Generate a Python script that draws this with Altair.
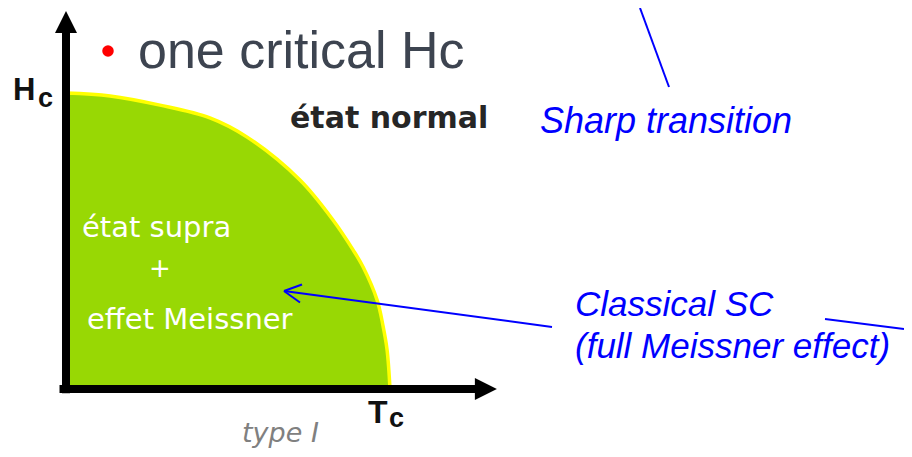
import altair as alt
import pandas as pd

# ---- data (T/Tc, H/Hc) ----
T_over_Tc = [0.0, 0.136, 0.290, 0.444, 0.559, 0.722, 0.824, 0.886, 0.917, 0.960, 0.978, 0.991, 1.0]
H_over_Hc = [1.0, 0.990, 0.959, 0.916, 0.851, 0.706, 0.571, 0.470, 0.412, 0.301, 0.216, 0.132, 0.0]

title_text = "one critical Hc"
normal_label = "état normal"
supra_labels = ["état supra", "+", "effet Meissner"]
type_label = "type I"
note_sharp = "Sharp transition"
note_classical = ["Classical SC", "(full Meissner effect)"]

W, H = 896, 441
xs = alt.Scale(domain=[-0.17901, 2.58642], nice=False, zero=False)
ys = alt.Scale(domain=[-0.20270, 1.28716], nice=False, zero=False)

curve = pd.DataFrame({"T": T_over_Tc, "H": H_over_Hc})

area = alt.Chart(curve).mark_area(
    fill="#98d804", stroke="#ffff00", strokeWidth=3.5, interpolate="catmull-rom"
).encode(
    x=alt.X("T:Q", scale=xs, axis=None),
    y=alt.Y("H:Q", scale=ys, axis=None),
    y2=alt.datum(0),
)

one = pd.DataFrame({"a": [0]})

y_axis = alt.Chart(one).mark_rule(color="black", strokeWidth=8, strokeCap="butt").encode(
    x=alt.datum(0.0), y=alt.datum(-0.014), y2=alt.datum(1.23)
)
x_axis = alt.Chart(one).mark_rule(color="black", strokeWidth=8, strokeCap="butt").encode(
    y=alt.datum(0.0), x=alt.datum(-0.02), x2=alt.datum(1.28)
)
y_head = alt.Chart(one).mark_point(
    shape="M0,-1L1,1L-1,1Z", filled=True, color="black", size=484, opacity=1, strokeWidth=0
).encode(x=alt.datum(0.0), y=alt.datum(1.240))
x_head = alt.Chart(one).mark_point(
    shape="M1,0L-1,-1L-1,1Z", filled=True, color="black", size=484, opacity=1, strokeWidth=0
).encode(x=alt.datum(1.296), y=alt.datum(0.0))


def txt(s, x, y, size, color, font="Liberation Sans", weight="normal", style="normal", align="left"):
    return alt.Chart(pd.DataFrame({"t": [s]})).mark_text(
        font=font, fontSize=size, color=color, fontWeight=weight, fontStyle=style,
        align=align, baseline="alphabetic"
    ).encode(x=alt.value(x), y=alt.value(y), text="t:N")


def seg(x1, y1, x2, y2, color="#0000ff", width=2):
    return alt.Chart(one).mark_rule(color=color, strokeWidth=width).encode(
        x=alt.value(x1), y=alt.value(y1), x2=alt.value(x2), y2=alt.value(y2)
    )


bullet = alt.Chart(one).mark_point(filled=True, color="#ff0000", size=133, opacity=1).encode(
    x=alt.value(100), y=alt.value(43)
)

layers = [
    area, y_axis, x_axis, y_head, x_head, bullet,
    txt(title_text, 130, 60, 52, "#3d4450"),
    txt("H", 5, 92, 31, "#111111", weight="bold"),
    txt("c", 30, 99, 27, "#111111", weight="bold"),
    txt("T", 360, 415, 32, "#111111", weight="bold"),
    txt("c", 381, 419, 27, "#111111", weight="bold"),
    txt(normal_label, 282, 120, 30, "#262626", font="DejaVu Sans", weight="bold"),
    txt(supra_labels[0], 74, 229, 29, "#ffffff", font="DejaVu Sans"),
    txt(supra_labels[1], 152, 269, 26, "#ffffff", font="DejaVu Sans", align="center"),
    txt(supra_labels[2], 79, 321, 29, "#ffffff", font="DejaVu Sans"),
    txt(type_label, 234, 434, 27, "#808080", font="DejaVu Sans", style="italic"),
    txt(note_sharp, 532, 125, 36, "#0000ff", style="italic"),
    txt(note_classical[0], 567, 308, 35, "#0000ff", style="italic"),
    txt(note_classical[1], 567, 350, 35, "#0000ff", style="italic"),
    seg(632, 0, 661, 79),
    seg(276, 283, 544, 319),
    seg(276, 283, 294, 276.5),
    seg(276, 283, 292, 294.5),
    seg(817, 311, 896, 321),
]

chart = alt.layer(*layers).properties(
    width=W, height=H, padding=0, autosize=alt.AutoSizeParams(type="none")
).configure_view(stroke=None)

chart.save("out.html", embed_options={"renderer": "svg", "actions": False})
